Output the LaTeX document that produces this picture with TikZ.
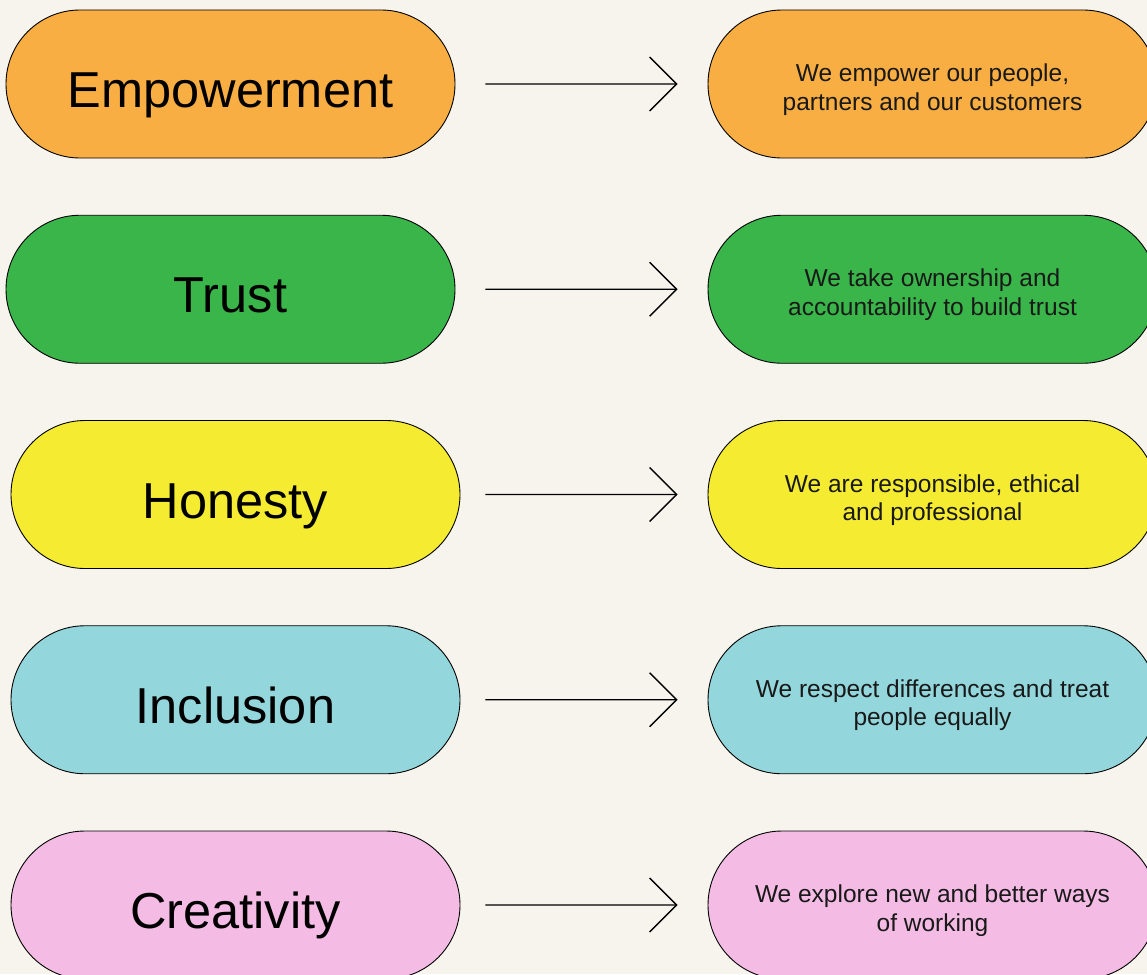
\documentclass[tikz,border=0pt]{standalone}
\usepackage{fontspec}
\setmainfont{Liberation Sans}
\usetikzlibrary{shapes.misc,arrows.meta}

\definecolor{paper}{HTML}{F7F4EE}
\definecolor{cOrange}{HTML}{F8AE42}
\definecolor{cGreen}{HTML}{39B54A}
\definecolor{cYellow}{HTML}{F5EB31}
\definecolor{cCyan}{HTML}{93D7DC}
\definecolor{cPink}{HTML}{F4BCE5}

\tikzset{
  pill/.style={rounded rectangle, draw=black, line width=0.9pt,
    minimum width=449pt, minimum height=148pt, inner sep=0pt},
  value/.style={anchor=base, inner sep=0pt, font=\fontsize{50.5}{56}\selectfont},
  meaning/.style={anchor=base, inner sep=0pt, align=center,
    font=\fontsize{24.5}{28.5}\selectfont, text=black!90},
  link/.style={line width=1.3pt, shorten >=30pt,
    -{Straight Barb[length=27pt, width=54pt, line width=1.3pt]}},
}

\begin{document}
\begin{tikzpicture}[x=1pt, y=-1pt]
  \useasboundingbox (0,0) rectangle (1147,974);
  \clip (0,0) rectangle (1147,974);
  \fill[paper] (0,0) rectangle (1147,974);

  % value pills on the left
  \node[pill, fill=cOrange] (L1) at (230.5,84) {};
  \node[pill, fill=cGreen]  (L2) at (230.5,289.25) {};
  \node[pill, fill=cYellow] (L3) at (235.5,494.5) {};
  \node[pill, fill=cCyan]   (L4) at (235.5,699.75) {};
  \node[pill, fill=cPink]   (L5) at (235.5,905) {};

  % description pills on the right
  \node[pill, fill=cOrange] (R1) at (932.5,84) {};
  \node[pill, fill=cGreen]  (R2) at (932.5,289.25) {};
  \node[pill, fill=cYellow] (R3) at (932.5,494.5) {};
  \node[pill, fill=cCyan]   (R4) at (932.5,699.75) {};
  \node[pill, fill=cPink]   (R5) at (932.5,905) {};

  % value names
  \node[value, yshift=-23.5pt] (t1) at (L1.center) {Empowerment};
  \node[value, yshift=-23.5pt] (t2) at (L2.center) {Trust};
  \node[value, yshift=-23.5pt] (t3) at (L3.center) {Honesty};
  \node[value, yshift=-23.5pt] (t4) at (L4.center) {Inclusion};
  \node[value, yshift=-23.5pt] (t5) at (L5.center) {Creativity};

  % descriptions (base anchor sits on the last line)
  \node[meaning, yshift=-26pt] (d1) at (R1.center) {We empower our people,\\partners and our customers};
  \node[meaning, yshift=-26pt] (d2) at (R2.center) {We take ownership and\\accountability to build trust};
  \node[meaning, yshift=-26pt] (d3) at (R3.center) {We are responsible, ethical\\and professional};
  \node[meaning, yshift=-26pt] (d4) at (R4.center) {We respect differences and treat\\people equally};
  \node[meaning, yshift=-26pt] (d5) at (R5.center) {We explore new and better ways\\of working};

  % connectors
  \draw[link, shorten <=30pt] (L1) -- (R1);
  \draw[link, shorten <=30pt] (L2) -- (R2);
  \draw[link, shorten <=25pt] (L3) -- (R3);
  \draw[link, shorten <=25pt] (L4) -- (R4);
  \draw[link, shorten <=25pt] (L5) -- (R5);
\end{tikzpicture}
\end{document}
